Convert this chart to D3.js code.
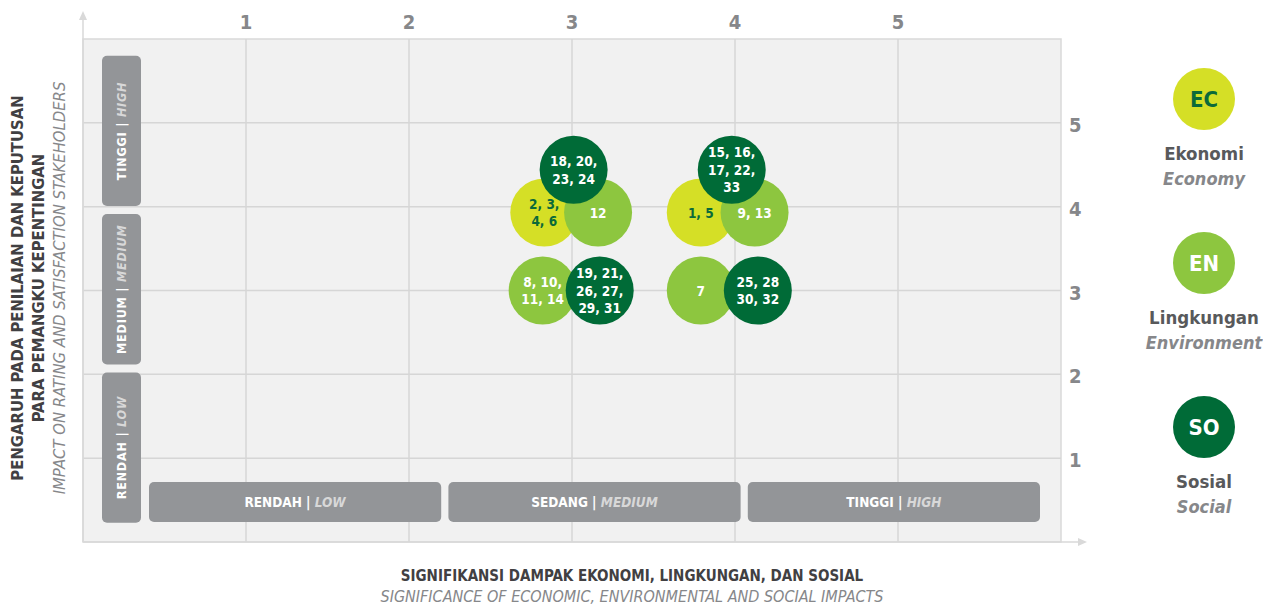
<!DOCTYPE html>
<html>
<head>
<meta charset="utf-8">
<script src="https://cdn.jsdelivr.net/npm/d3@7"></script>
<style>
body { margin:0; background:#fff; }
text { font-family: "Liberation Sans Narrow", "DejaVu Sans Condensed", "Roboto", sans-serif; }
</style>
</head>
<body>
<div id="chart"></div>
<script>
var wd = 1263, ht = 606;

// data
var xTicks = [1, 2, 3, 4, 5];
var yTicks = [1, 2, 3, 4, 5];
var groups = ["EC", "EN", "SO"];
var groupNames = ["Ekonomi", "Lingkungan", "Sosial"];
var groupNamesEn = ["Economy", "Environment", "Social"];
var topicLabels = ["18, 20,|23, 24", "2, 3,|4, 6", "12", "8, 10,|11, 14", "19, 21,|26, 27,|29, 31",
                   "15, 16,|17, 22,|33", "1, 5", "9, 13", "7", "25, 28|30, 32"];
var topicGroup = ["SO", "EC", "EN", "EN", "SO", "SO", "EC", "EN", "EN", "SO"];
var topicX = [3.01, 2.83, 3.16, 2.82, 3.17, 3.98, 3.79, 4.12, 3.79, 4.14];
var topicY = [4.44, 3.93, 3.93, 3.0, 3.0, 4.44, 3.93, 3.93, 3.0, 3.0];
var drawOrder = [1, 2, 0, 3, 4, 6, 7, 5, 8, 9];
var yBands = ["RENDAH|LOW", "MEDIUM|MEDIUM", "TINGGI|HIGH"];
var xBands = ["RENDAH|LOW", "SEDANG|MEDIUM", "TINGGI|HIGH"];

var colors = d3.scaleOrdinal().domain(groups).range(["#d5df26", "#8dc63f", "#006b37"]);
var textColors = d3.scaleOrdinal().domain(groups).range(["#0b6a3a", "#ffffff", "#ffffff"]);

var x = d3.scaleLinear().domain([0, 6]).range([83, 1061]);
var y = d3.scaleLinear().domain([0, 6]).range([542, 39]);

var svg = d3.select('#chart')
	.append("svg")
	.attr("width", wd)
	.attr("height", ht);

// plot background
svg.append('rect')
	.attr('x', x(0)).attr('y', y(6))
	.attr('width', x(6) - x(0)).attr('height', y(0) - y(6))
	.attr('fill', '#f1f1f1')
	.attr('stroke', '#d9d9d9').attr('stroke-width', 1.5);

svg.selectAll('.vgrid').data(xTicks).enter().append('line')
	.attr('class', 'vgrid')
	.attr('x1', function(d){return x(d);}).attr('x2', function(d){return x(d);})
	.attr('y1', y(6)).attr('y2', y(0))
	.attr('stroke', '#d6d6d6').attr('stroke-width', 1.5);

svg.selectAll('.hgrid').data(yTicks).enter().append('line')
	.attr('class', 'hgrid')
	.attr('x1', x(0)).attr('x2', x(6))
	.attr('y1', function(d){return y(d);}).attr('y2', function(d){return y(d);})
	.attr('stroke', '#d6d6d6').attr('stroke-width', 1.5);

// arrows
svg.append('line').attr('x1', x(0)).attr('x2', x(0)).attr('y1', y(0)).attr('y2', 16)
	.attr('stroke', '#d9d9d9').attr('stroke-width', 1.5);
svg.append('path').attr('d', 'M' + (x(0) - 4) + ',20 L' + x(0) + ',11 L' + (x(0) + 4) + ',20 Z').attr('fill', '#d9d9d9');
svg.append('line').attr('x1', x(0)).attr('x2', 1082).attr('y1', y(0)).attr('y2', y(0))
	.attr('stroke', '#d9d9d9').attr('stroke-width', 1.5);
svg.append('path').attr('d', 'M1078,' + (y(0) - 4) + ' L1087,' + y(0) + ' L1078,' + (y(0) + 4) + ' Z').attr('fill', '#d9d9d9');

// tick labels
svg.selectAll('.xtick').data(xTicks).enter().append('text')
	.attr('x', function(d){return x(d);}).attr('y', 29)
	.attr('text-anchor', 'middle').attr('font-size', 20).attr('font-weight', 'bold')
	.attr('fill', '#86878a').text(function(d){return d;});
svg.selectAll('.ytick').data(yTicks).enter().append('text')
	.attr('x', 1069).attr('y', function(d){return y(d) + 9;})
	.attr('font-size', 20).attr('font-weight', 'bold')
	.attr('fill', '#86878a').text(function(d){return d;});

// band boxes
function bandText(sel, label) {
	var parts = label.split('|');
	sel.append('tspan').attr('font-weight', 'bold').text(parts[0] + ' | ');
	sel.append('tspan').attr('font-weight', 'bold').attr('font-style', 'italic').attr('fill', '#d8d8d8').text(parts[1]);
}

var yBandScale = d3.scaleBand().domain(yBands).range([y(0.23), y(5.8)]).paddingInner(0.051);
svg.selectAll('.ybandrect').data(yBands).enter().append('rect')
	.attr('x', 102).attr('y', function(d){return yBandScale(d);})
	.attr('width', 39).attr('height', yBandScale.bandwidth())
	.attr('rx', 5).attr('fill', '#939598');
svg.selectAll('.yband').data(yBands).enter().append('text')
	.attr('transform', function(d){return 'translate(126,' + (yBandScale(d) + yBandScale.bandwidth() / 2) + ') rotate(-90)';})
	.attr('text-anchor', 'middle').attr('font-size', 12.5).attr('fill', '#fff').attr('letter-spacing', 0.8)
	.each(function(d){bandText(d3.select(this), d);});

var xBandScale = d3.scaleBand().domain(xBands).range([149, 1040]).paddingInner(0.024);
svg.selectAll('.xbandrect').data(xBands).enter().append('rect')
	.attr('x', function(d){return xBandScale(d);}).attr('y', 482)
	.attr('width', xBandScale.bandwidth()).attr('height', 40)
	.attr('rx', 5).attr('fill', '#939598');
svg.selectAll('.xband').data(xBands).enter().append('text')
	.attr('x', function(d){return xBandScale(d) + xBandScale.bandwidth() / 2;}).attr('y', 507)
	.attr('text-anchor', 'middle').attr('font-size', 13.5).attr('fill', '#fff')
	.each(function(d){bandText(d3.select(this), d);});

// bubbles
var r = 34;
var bubbles = svg.selectAll('.bubble').data(drawOrder).enter().append('g')
	.attr('class', 'bubble')
	.attr('transform', function(i){return 'translate(' + x(topicX[i]) + ',' + y(topicY[i]) + ')';});
bubbles.append('circle').attr('r', r)
	.attr('fill', function(i){return colors(topicGroup[i]);});
bubbles.each(function(i) {
	var lines = topicLabels[i].split('|');
	var t = d3.select(this).append('text')
		.attr('text-anchor', 'middle').attr('font-size', 13.5).attr('font-weight', 'bold')
		.attr('fill', textColors(topicGroup[i]));
	lines.forEach(function(l, k) {
		t.append('tspan').attr('x', 0)
			.attr('y', (k - (lines.length - 1) / 2) * 17.5 + 5)
			.text(l);
	});
});

// legend
var legendY = d3.scalePoint().domain(groups).range([99, 427]);
var legend = svg.selectAll('.legend').data(groups).enter().append('g')
	.attr('transform', function(d){return 'translate(1204,' + legendY(d) + ')';});
legend.append('circle').attr('r', 31).attr('fill', function(d){return colors(d);});
legend.append('text').attr('y', 8).attr('text-anchor', 'middle')
	.attr('font-size', 22).attr('font-weight', 'bold')
	.attr('fill', function(d){return textColors(d);}).text(function(d){return d;});
legend.append('text').attr('y', 61).attr('text-anchor', 'middle')
	.attr('font-size', 18.5).attr('font-weight', 'bold').attr('fill', '#58595b')
	.text(function(d, i){return groupNames[i];});
legend.append('text').attr('y', 86).attr('text-anchor', 'middle')
	.attr('font-size', 18).attr('font-weight', 'bold').attr('font-style', 'italic').attr('fill', '#86878a')
	.text(function(d, i){return groupNamesEn[i];});

// axis titles
svg.append('text').attr('x', 632).attr('y', 581).attr('text-anchor', 'middle')
	.attr('font-size', 15).attr('font-weight', 'bold').attr('fill', '#414042')
	.text('SIGNIFIKANSI DAMPAK EKONOMI, LINGKUNGAN, DAN SOSIAL');
svg.append('text').attr('x', 632).attr('y', 602).attr('text-anchor', 'middle')
	.attr('font-size', 16).attr('font-style', 'italic').attr('fill', '#86878a')
	.text('SIGNIFICANCE OF ECONOMIC, ENVIRONMENTAL AND SOCIAL IMPACTS');

var yt = svg.append('g').attr('transform', 'translate(0,288) rotate(-90)');
yt.append('text').attr('x', 0).attr('y', 23).attr('text-anchor', 'middle')
	.attr('font-size', 16.5).attr('font-weight', 'bold').attr('fill', '#414042')
	.text('PENGARUH PADA PENILAIAN DAN KEPUTUSAN');
yt.append('text').attr('x', 0).attr('y', 44).attr('text-anchor', 'middle')
	.attr('font-size', 16.5).attr('font-weight', 'bold').attr('fill', '#414042')
	.text('PARA PEMANGKU KEPENTINGAN');
yt.append('text').attr('x', 0).attr('y', 65).attr('text-anchor', 'middle')
	.attr('font-size', 16.5).attr('font-style', 'italic').attr('fill', '#86878a')
	.text('IMPACT ON RATING AND SATISFACTION STAKEHOLDERS');
</script>
</body>
</html>
